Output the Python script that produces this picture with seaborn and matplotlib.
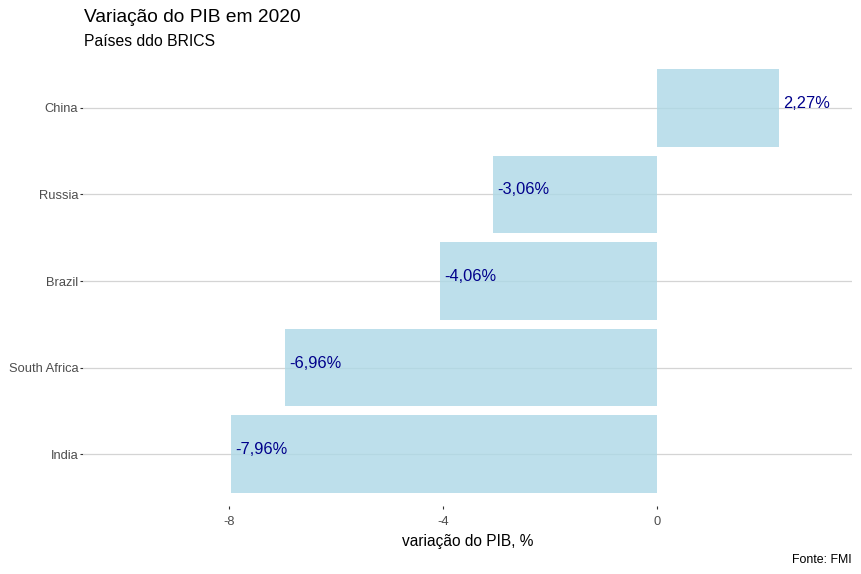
import matplotlib
matplotlib.use("Agg")
import matplotlib.pyplot as plt
import seaborn as sns
import pandas as pd

# Data
countries = ["China", "Russia", "Brazil", "South Africa", "India"]
gdp_change = [2.27, -3.06, -4.06, -6.96, -7.96]
x_ticks = [-8, -4, 0]
x_tick_labels = ["-8", "-4", "0"]

title = "Variação do PIB em 2020"
subtitle = "Países ddo BRICS"
x_label = "variação do PIB, %"
caption = "Fonte: FMI"

df = pd.DataFrame({"pais": countries, "var": gdp_change})

sns.set_theme(style="white")
plt.rcParams["font.family"] = ["Liberation Sans", "DejaVu Sans"]

W, H = 862, 574
fig = plt.figure(figsize=(W / 100, H / 100), dpi=100)
left, right, top, bottom = 83, 852, 56, 506
ax = fig.add_axes([left / W, 1 - bottom / H, (right - left) / W, (bottom - top) / H])

sns.barplot(data=df, x="var", y="pais", order=countries, orient="h",
            color="#ADD8E6", saturation=1, alpha=0.8, width=0.9, linewidth=0,
            ax=ax, errorbar=None, zorder=2)

ax.set_xlim(-10.73, 3.64)
ax.set_ylim(len(countries) - 1 + 0.6, -0.6)

for i, v in enumerate(gdp_change):
    ax.text(v + 0.08, i, f"{v:.2f}%".replace(".", ","), ha="left", va="baseline",
            color="#00008B", fontsize=11.8, zorder=3)

ax.set_xticks(x_ticks)
ax.set_xticklabels(x_tick_labels)
ax.grid(False)
for i in range(len(countries)):
    ax.axhline(i, color="#D4D4D4", linewidth=0.9, zorder=1)

for s in ax.spines.values():
    s.set_visible(False)

ax.tick_params(axis="both", which="both", length=2.2, width=0.8, color="#333333",
               labelcolor="#4D4D4D", labelsize=9.3)
ax.tick_params(axis="x", pad=5, bottom=True)
ax.tick_params(axis="y", pad=1.2, left=True)

ax.set_ylabel("")
ax.set_xlabel(x_label, fontsize=11.2, color="black", labelpad=4)

fig.text(84 / W, 1 - 22.5 / H, title, fontsize=13.8, color="black",
         ha="left", va="baseline")
fig.text(84 / W, 1 - 46.5 / H, subtitle, fontsize=11.3, color="black",
         ha="left", va="baseline")
fig.text(852 / W, 1 - 563.3 / H, caption, fontsize=8.9, color="black",
         ha="right", va="baseline")

fig.savefig("out.png", dpi=100)
